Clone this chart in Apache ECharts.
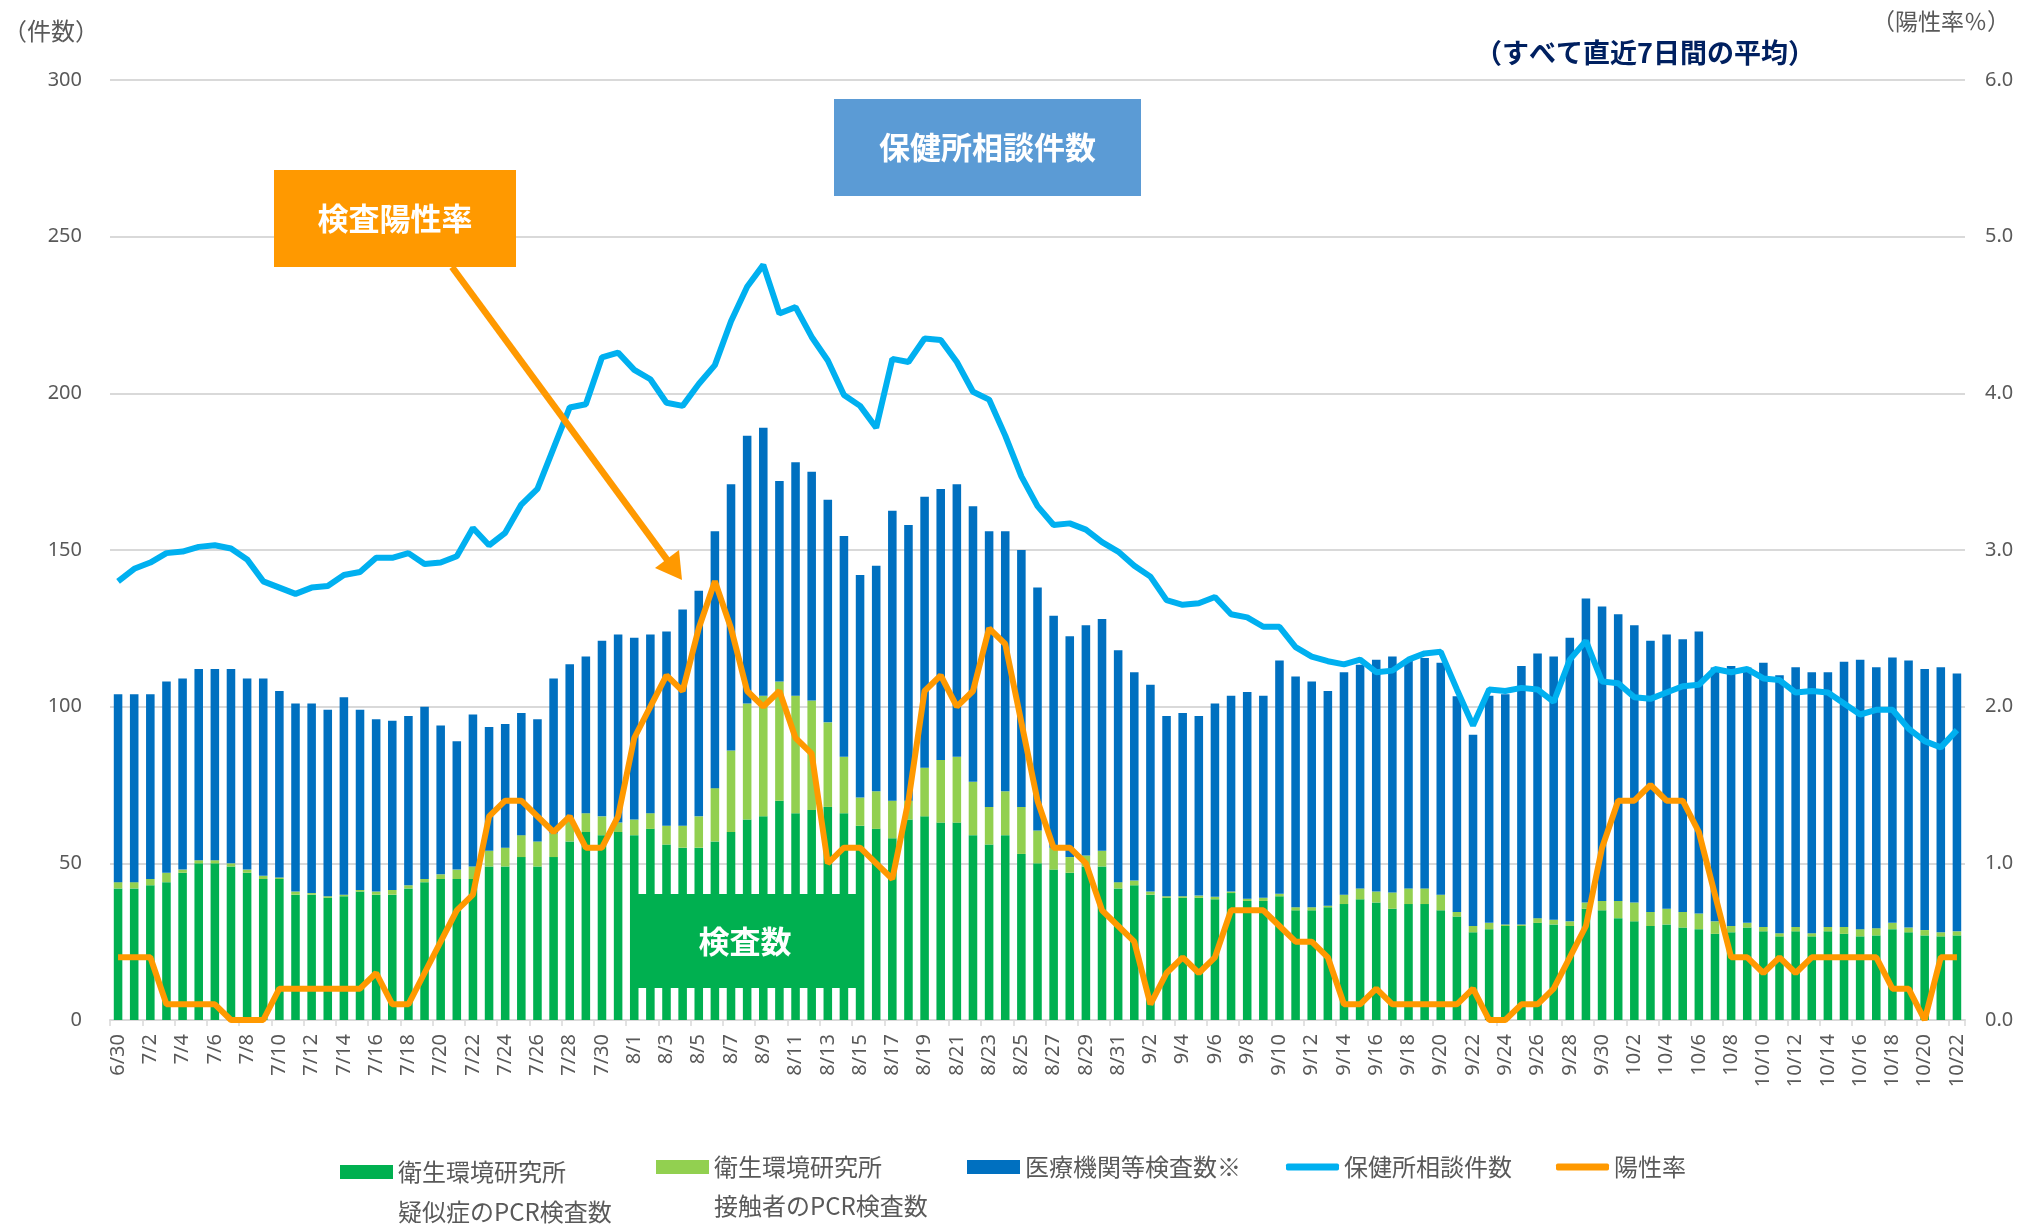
<!DOCTYPE html>
<html><head><meta charset="utf-8">
<script src="https://cdn.jsdelivr.net/npm/echarts@6/dist/echarts.min.js"></script>
<style>html,body{margin:0;padding:0;background:#fff}#c{width:2024px;height:1224px}</style>
</head><body><div id="c"></div>
<script>
const categories = ['6/30',
 '7/1','7/2','7/3','7/4','7/5','7/6','7/7','7/8','7/9','7/10','7/11','7/12','7/13','7/14','7/15','7/16','7/17','7/18','7/19','7/20','7/21','7/22','7/23','7/24','7/25','7/26','7/27','7/28','7/29','7/30','7/31',
 '8/1','8/2','8/3','8/4','8/5','8/6','8/7','8/8','8/9','8/10','8/11','8/12','8/13','8/14','8/15','8/16','8/17','8/18','8/19','8/20','8/21','8/22','8/23','8/24','8/25','8/26','8/27','8/28','8/29','8/30','8/31',
 '9/1','9/2','9/3','9/4','9/5','9/6','9/7','9/8','9/9','9/10','9/11','9/12','9/13','9/14','9/15','9/16','9/17','9/18','9/19','9/20','9/21','9/22','9/23','9/24','9/25','9/26','9/27','9/28','9/29','9/30',
 '10/1','10/2','10/3','10/4','10/5','10/6','10/7','10/8','10/9','10/10','10/11','10/12','10/13','10/14','10/15','10/16','10/17','10/18','10/19','10/20','10/21','10/22'];

// 衛生環境研究所 疑似症のPCR検査数
const suspectPCR = [42,42,43,44,47,50,50,49,47,45,
 45,40,40,39,39.5,41,40,40,42,44,
 45,45,45,49,49,52,49,52,57,60,
 59,60,59,61,56,55,55,57,60,64,
 65,70,66,67,68,66,62,61,58,64,
 65,63,63,59,56,59,53,50,48,47,
 49,49,42,43,40,39,39,39,38.5,40.5,
 38,38,39.5,35,35,36,37,38.5,37.5,35.5,
 37,37,35,33,28,29,30,30,31,30.5,
 30,35.5,35,32.5,31.5,30,30.5,29.5,29,27.5,
 28,29.5,28.3,26.7,28.3,26.7,28.3,27.5,26.7,27,
 29,28,27,26.7,27];

// 衛生環境研究所 接触者のPCR検査数
const contactPCR = [2,2,2,3,1,1,1,1,1,1,
 0.5,1,0.5,0.5,0.5,0.5,1,1.5,1,1,
 1.5,3,4,5,6,7,8,7.5,7,6,
 6,3,5,5,6,7,10,17,26,37,
 38.5,38,37.5,35,27,18,9,12,12,6,
 15.5,20,21,17,12,14,15,10.5,7,5,
 3.5,5,2,1.5,1,0.5,0.5,0.7,0.8,0.5,
 0.7,1,0.8,1,1,0.5,3,3.5,3.5,5.2,
 5,5,5,1.5,2,2,0.5,0.5,1.5,1.5,
 1.5,2,3,5.5,6,4.5,5,5,5,4,
 2,1.5,1.4,1,1.4,1,1.4,2.2,2.3,2.3,
 2,1.5,1.7,1.3,1.3];

// 医療機関等検査数※
const medicalTests = [60,60,59,61,61,61,61,62,61,63,
 59.5,60,60.5,59.5,63,57.5,55,54,54,55,
 47.5,41,48.5,39.5,39.5,39,39,49.5,49.5,50,
 56,60,58,57,62,69,72,82,85,85.5,
 85.5,64,74.5,73,71,70.5,71,72,92.5,88,
 86.5,86.5,87,88,88,83,82,77.5,74,70.5,
 73.5,74,74,66.5,66,57.5,58.5,57.3,61.7,62.5,
 66,64.5,74.4,73.6,72,68.5,71,71.4,74,75.3,
 73,73.5,74,68.8,61,72.5,73.5,82.5,84.5,84,
 90.5,97,94,91.5,88.5,86.5,87.5,87,90,81,
 83,81.5,84.3,82.3,82.9,83.3,81.3,84.6,86,83.3,
 84.7,85.2,83.3,84.6,82.3];

// 保健所相談件数
const consultations = [140,144,146,149,149.5,151,151.5,150.5,147,140,
 138,136,138,138.5,142,143,147.5,147.5,149,145.5,
 146,148,157,151.5,155.5,164.5,169.5,182.5,195.5,196.5,
 211.5,213,207.5,204.5,197,196,203,209,223,234,
 241,225.5,227.5,218,210.5,199.5,196,189,211,210,
 217.5,217,210,200.5,198,186.5,173.5,164,158,158.5,
 156.5,152.5,149.5,145,141.5,134,132.5,133,135,129.5,
 128.5,125.5,125.5,119,116,114.5,113.5,115,111,111.5,
 115,117,117.5,105.5,94,105.5,105,106,105.5,101.5,
 115,121,108,107.5,103,102.5,104.5,106.5,107,112,
 111,112,109,108.5,104.5,105,104.5,101,97.5,99,
 99,93,89,87,92.5];

// 陽性率 (%)
const positivity = [0.4,0.4,0.4,0.1,0.1,0.1,0.1,0,0,0,
 0.2,0.2,0.2,0.2,0.2,0.2,0.3,0.1,0.1,0.3,
 0.5,0.7,0.8,1.3,1.4,1.4,1.3,1.2,1.3,1.1,
 1.1,1.3,1.8,2.0,2.2,2.1,2.5,2.8,2.5,2.1,
 2.0,2.1,1.8,1.7,1.0,1.1,1.1,1.0,0.9,1.4,
 2.1,2.2,2.0,2.1,2.5,2.4,1.9,1.4,1.1,1.1,
 1.0,0.7,0.6,0.5,0.1,0.3,0.4,0.3,0.4,0.7,
 0.7,0.7,0.6,0.5,0.5,0.4,0.1,0.1,0.2,0.1,
 0.1,0.1,0.1,0.1,0.2,0,0,0.1,0.1,0.2,
 0.4,0.6,1.1,1.4,1.4,1.5,1.4,1.4,1.2,0.8,
 0.4,0.4,0.3,0.4,0.3,0.4,0.4,0.4,0.4,0.4,
 0.2,0.2,0,0.4,0.4];

const S1 = '衛生環境研究所 疑似症のPCR検査数';
const S2 = '衛生環境研究所 接触者のPCR検査数';
const S3 = '医療機関等検査数※';
const S4 = '保健所相談件数';
const S5 = '陽性率';

const JP = '"Noto Sans CJK JP", "Noto Sans", sans-serif';
const NUM = '"Noto Sans", "Noto Sans CJK JP", sans-serif';
const GREY = '#595959';

const chart = echarts.init(document.getElementById('c'), null, {renderer: 'canvas'});

function legendItem(name, left, top, icon, h, label) {
  return {
    data: [{name: name, icon: icon}],
    left: left, top: top, padding: 0,
    itemWidth: 53, itemHeight: h,
    selectedMode: false,
    formatter: () => label,
    textStyle: {color: GREY, fontSize: 24, fontFamily: JP}
  };
}

function box(x, y, w, h, fill, text) {
  return [
    {type: 'rect', z: 100, shape: {x: x, y: y, width: w, height: h}, style: {fill: fill}},
    {type: 'text', z: 101, x: x + w / 2, y: y + h / 2,
     style: {text: text, fill: '#fff', font: 'bold 31px ' + JP, align: 'center', verticalAlign: 'middle'}}
  ];
}

const option = {
  backgroundColor: '#fff',
  animation: false,
  grid: {left: 110, right: 59, top: 80, bottom: 204, containLabel: false, outerBoundsMode: 'none'},
  legend: [
    legendItem(S1, 340, 1160, 'rect', 14, '衛生環境研究所'),
    legendItem(S2, 656, 1155, 'rect', 14, '衛生環境研究所'),
    legendItem(S3, 967, 1155, 'rect', 14, S3),
    legendItem(S4, 1286, 1155, 'roundRect', 7, S4),
    legendItem(S5, 1556, 1155, 'roundRect', 7, S5)
  ],
  xAxis: {
    type: 'category',
    data: categories,
    boundaryGap: true,
    axisLine: {lineStyle: {color: '#d9d9d9', width: 2}},
    axisTick: {show: true, interval: 1, length: 6, lineStyle: {color: '#d9d9d9', width: 1.5}},
    axisLabel: {interval: 1, rotate: 90, margin: 14, color: GREY, fontSize: 20, fontFamily: NUM},
    splitLine: {show: false}
  },
  yAxis: [
    {
      type: 'value', min: 0, max: 300, interval: 50,
      axisLine: {show: false}, axisTick: {show: false},
      axisLabel: {margin: 28, color: GREY, fontSize: 20, fontFamily: NUM},
      splitLine: {lineStyle: {color: '#d9d9d9', width: 2}}
    },
    {
      type: 'value', min: 0, max: 6, interval: 1, position: 'right',
      axisLine: {show: false}, axisTick: {show: false},
      axisLabel: {margin: 20, color: GREY, fontSize: 20, fontFamily: NUM, formatter: v => v.toFixed(1)},
      splitLine: {show: false}
    }
  ],
  series: [
    {name: S1, type: 'bar', stack: 'tests', barWidth: '53%', data: suspectPCR, itemStyle: {color: '#00b050'}},
    {name: S2, type: 'bar', stack: 'tests', barWidth: '53%', data: contactPCR, itemStyle: {color: '#92d050'}},
    {name: S3, type: 'bar', stack: 'tests', barWidth: '53%', data: medicalTests, itemStyle: {color: '#0070c0'}},
    {name: S4, type: 'line', data: consultations, symbol: 'none', z: 4,
     lineStyle: {color: '#00b0f0', width: 6}, itemStyle: {color: '#00b0f0'}},
    {name: S5, type: 'line', yAxisIndex: 1, data: positivity, symbol: 'none', z: 5,
     lineStyle: {color: '#ff9900', width: 6}, itemStyle: {color: '#ff9900'}}
  ],
  graphic: [
    {type: 'text', z: 100, x: 3, y: 31,
     style: {text: '（件数）', fill: GREY, font: '24px ' + JP, align: 'left', verticalAlign: 'middle'}},
    {type: 'text', z: 100, x: 2010, y: 21,
     style: {text: '（陽性率％）', fill: GREY, font: '23px ' + JP, align: 'right', verticalAlign: 'middle'}},
    {type: 'text', z: 100, x: 1645, y: 53,
     style: {text: '（すべて直近7日間の平均）', fill: '#002060', font: 'bold 27px ' + JP, align: 'center', verticalAlign: 'middle'}},
    ...box(834, 99, 307, 97, '#5b9bd5', '保健所相談件数'),
    ...box(274, 170, 242, 97, '#ff9900', '検査陽性率'),
    ...box(631, 894, 228, 94, '#00b050', '検査数'),
    {type: 'line', z: 100, shape: {x1: 452, y1: 267, x2: 668, y2: 561},
     style: {stroke: '#ff9900', lineWidth: 6.5}},
    {type: 'polygon', z: 100, shape: {points: [[682, 580], [655, 568], [679, 550]]},
     style: {fill: '#ff9900'}},
    {type: 'text', z: 100, x: 398, y: 1212,
     style: {text: '疑似症のPCR検査数', fill: GREY, font: '24px ' + JP, align: 'left', verticalAlign: 'middle'}},
    {type: 'text', z: 100, x: 714, y: 1206,
     style: {text: '接触者のPCR検査数', fill: GREY, font: '24px ' + JP, align: 'left', verticalAlign: 'middle'}}
  ]
};
chart.setOption(option);
</script>
</body></html>
